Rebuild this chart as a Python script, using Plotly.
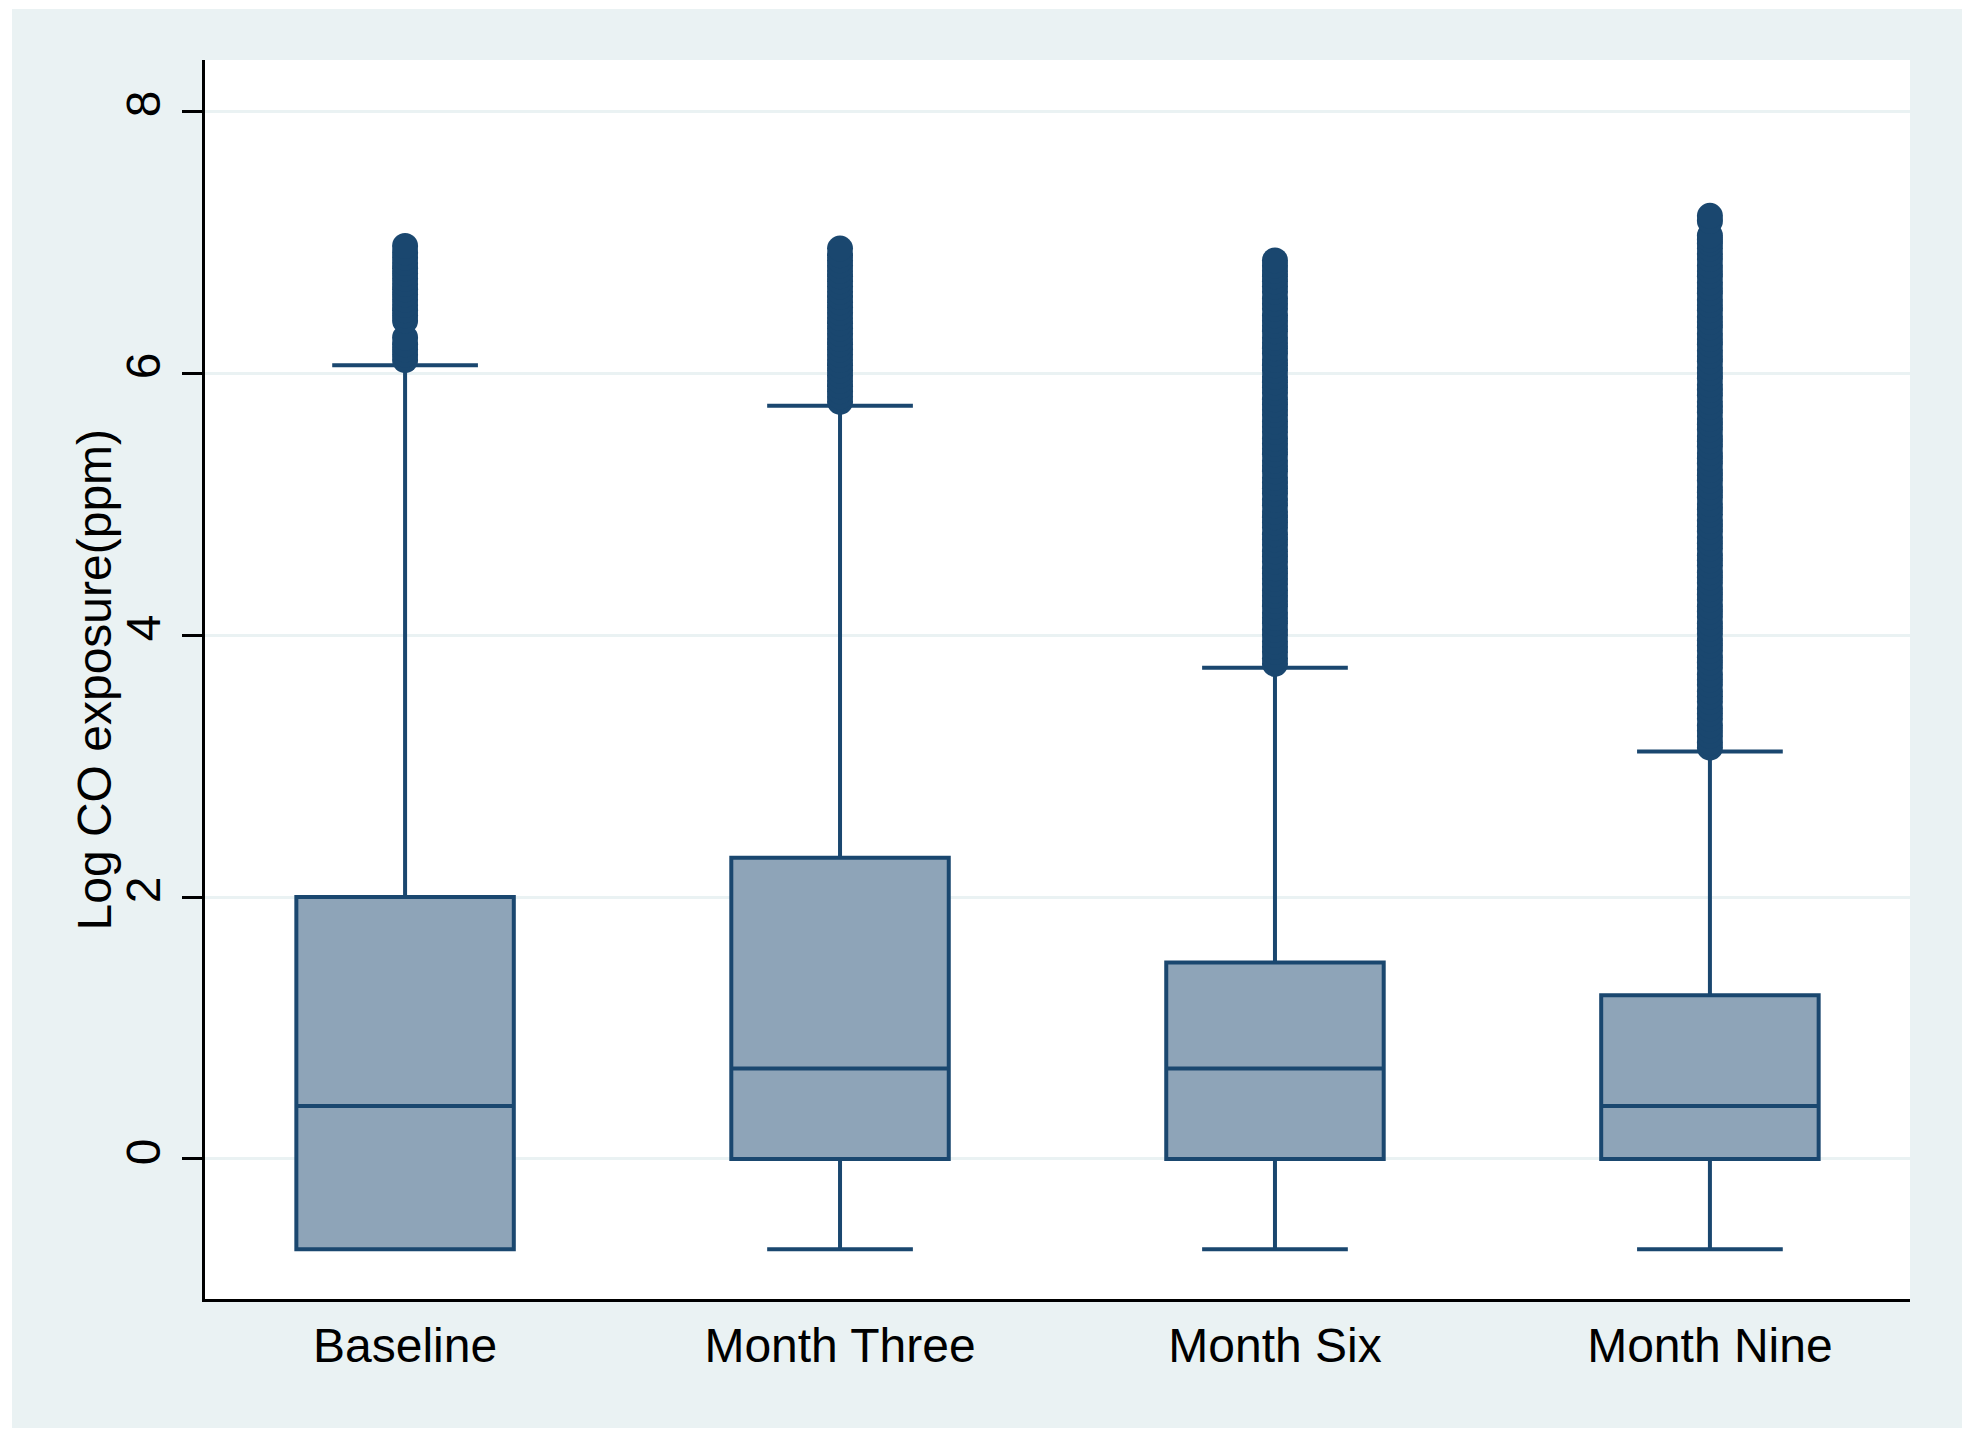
import plotly.graph_objects as go

# ---- data ----
categories = ["Baseline", "Month Three", "Month Six", "Month Nine"]
q1 = [-0.69, 0.0, 0.0, 0.0]
median = [0.405, 0.69, 0.69, 0.405]
q3 = [2.0, 2.30, 1.50, 1.25]
lowerfence = [-0.69, -0.69, -0.69, -0.69]
upperfence = [6.06, 5.75, 3.75, 3.11]

outliers_baseline = [6.10, 6.14, 6.18, 6.22, 6.27, 6.40, 6.44, 6.48, 6.52, 6.56,
                     6.60, 6.64, 6.68, 6.72, 6.76, 6.80, 6.84, 6.88, 6.92, 6.97]
outliers_month3 = [5.78, 5.82, 5.86, 5.90, 5.94, 5.98, 6.02, 6.06, 6.10, 6.14,
                   6.18, 6.22, 6.26, 6.30, 6.34, 6.38, 6.42, 6.46, 6.50, 6.54,
                   6.58, 6.62, 6.66, 6.70, 6.74, 6.78, 6.82, 6.86, 6.90, 6.95]
outliers_month6 = [3.78, 3.82, 3.87, 3.91, 3.95, 4.00, 4.04, 4.09, 4.13, 4.17,
                   4.22, 4.26, 4.30, 4.34, 4.39, 4.43, 4.47, 4.51, 4.56, 4.60,
                   4.64, 4.69, 4.73, 4.77, 4.82, 4.86, 4.90, 4.94, 4.99, 5.03,
                   5.08, 5.12, 5.16, 5.20, 5.25, 5.29, 5.33, 5.38, 5.42, 5.46,
                   5.50, 5.55, 5.59, 5.63, 5.68, 5.72, 5.76, 5.80, 5.85, 5.89,
                   5.93, 5.97, 6.02, 6.06, 6.10, 6.15, 6.19, 6.23, 6.27, 6.32,
                   6.36, 6.40, 6.44, 6.49, 6.53, 6.57, 6.62, 6.66, 6.70, 6.74,
                   6.78, 6.82, 6.86]
outliers_month9 = [3.14, 3.18, 3.23, 3.27, 3.31, 3.36, 3.40, 3.44, 3.49, 3.53,
                   3.57, 3.62, 3.66, 3.70, 3.75, 3.79, 3.83, 3.88, 3.92, 3.96,
                   4.01, 4.05, 4.09, 4.14, 4.18, 4.22, 4.27, 4.31, 4.35, 4.40,
                   4.44, 4.48, 4.53, 4.57, 4.61, 4.66, 4.70, 4.74, 4.79, 4.83,
                   4.87, 4.92, 4.96, 5.00, 5.05, 5.09, 5.13, 5.18, 5.22, 5.26,
                   5.31, 5.35, 5.39, 5.44, 5.48, 5.52, 5.57, 5.61, 5.65, 5.70,
                   5.74, 5.78, 5.83, 5.87, 5.91, 5.96, 6.00, 6.04, 6.09, 6.13,
                   6.17, 6.22, 6.26, 6.30, 6.35, 6.39, 6.43, 6.48, 6.52, 6.56,
                   6.61, 6.65, 6.69, 6.74, 6.78, 6.82, 6.87, 6.91, 6.95, 6.99,
                   7.02, 7.05, 7.16, 7.20]
outliers = [outliers_baseline, outliers_month3, outliers_month6, outliers_month9]

y_tickvals = [0, 2, 4, 6, 8]
y_title = "Log CO exposure(ppm)"

# ---- styles ----
NAVY = "#1A476F"
FILL = "#8EA4B8"
OUTER = "#EAF2F3"
FONT = "Liberation Sans, Arial, sans-serif"

W, H = 1974, 1440
ML, MR, MT, MB = 205, 64, 60, 141

fig = go.Figure()
fig.add_trace(go.Box(
    x=categories, q1=q1, median=median, q3=q3,
    lowerfence=lowerfence, upperfence=upperfence,
    width=0.5, whiskerwidth=0.67,
    fillcolor=FILL, line=dict(color=NAVY, width=4),
    boxpoints=False, showlegend=False, hoverinfo="skip",
))

ox, oy = [], []
for cat, vals in zip(categories, outliers):
    ox += [cat] * len(vals)
    oy += vals
fig.add_trace(go.Scatter(
    x=ox, y=oy, mode="markers",
    marker=dict(size=26, color=NAVY, line=dict(width=0)),
    showlegend=False, hoverinfo="skip",
))

# white outer border around the light frame
pw, ph = W - ML - MR, H - MT - MB
def px2x(p):
    return (p - ML) / pw
def px2y(q):
    return (H - MB - q) / ph
border = [(0, 0, 12, H), (W - 12, 0, W, H), (0, 0, W, 9), (0, H - 12, W, H)]
for (x0, y0, x1, y1) in border:
    fig.add_shape(type="rect", xref="paper", yref="paper",
                  x0=px2x(x0), x1=px2x(x1), y0=px2y(y1), y1=px2y(y0),
                  fillcolor="white", line=dict(width=0), layer="below")

# y-axis title as rotated annotation
fig.add_annotation(
    text=y_title, xref="paper", yref="paper",
    x=px2x(94), y=0.5, xanchor="center", yanchor="middle",
    textangle=-90, showarrow=False,
    font=dict(size=48, family=FONT, color="black"),
)

fig.update_layout(
    width=W, height=H,
    margin=dict(l=ML, r=MR, t=MT, b=MB, pad=0),
    paper_bgcolor=OUTER, plot_bgcolor="white",
    font=dict(family=FONT, size=48, color="black"),
    showlegend=False,
    boxmode="overlay",
)
fig.update_xaxes(
    type="category", categoryarray=categories, range=[-0.46, 3.46],
    showline=True, linewidth=3, linecolor="black", ticks="",
    showgrid=False, zeroline=False,
    tickfont=dict(size=48, family=FONT, color="black"),
    ticklabelstandoff=2,
)
fig.update_yaxes(
    range=[-1.069, 8.39], tickvals=y_tickvals, ticktext=[str(v) for v in y_tickvals],
    tickangle=-90, ticks="outside", ticklen=20, tickwidth=3, tickcolor="black",
    showline=True, linewidth=3, linecolor="black",
    showgrid=True, gridcolor=OUTER, gridwidth=3, zeroline=False,
    tickfont=dict(size=48, family=FONT, color="black"),
    ticklabelstandoff=3,
)

fig.write_html(
    "out.html",
    config={"displayModeBar": False},
    post_script="document.body.style.margin='0';document.body.style.overflow='hidden';",
)
